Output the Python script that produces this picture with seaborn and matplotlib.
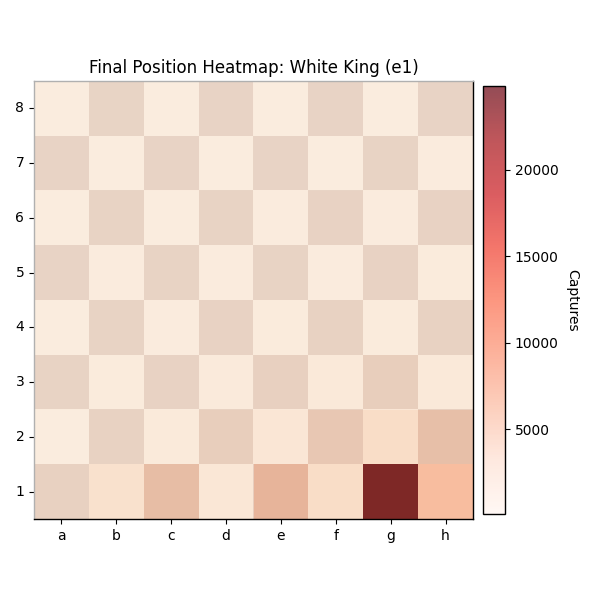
import numpy as np
import pandas as pd
import matplotlib
matplotlib.use("Agg")
import matplotlib.pyplot as plt
import seaborn as sns

files = ["a", "b", "c", "d", "e", "f", "g", "h"]
ranks = ["8", "7", "6", "5", "4", "3", "2", "1"]

rank8 = [80, 150, 120, 200, 130, 220, 150, 250]
rank7 = [200, 120, 220, 150, 250, 160, 300, 180]
rank6 = [130, 300, 160, 350, 200, 380, 250, 450]
rank5 = [250, 180, 300, 220, 350, 260, 420, 300]
rank4 = [150, 350, 250, 450, 300, 550, 350, 600]
rank3 = [300, 350, 400, 550, 1000, 800, 1500, 800]
rank2 = [150, 500, 600, 1500, 1400, 2800, 3300, 4000]
rank1 = [700, 2500, 4200, 1300, 5300, 3300, 24860, 7000]

captures = [rank8, rank7, rank6, rank5, rank4, rank3, rank2, rank1]

df = pd.DataFrame(captures, index=ranks, columns=files)

light_sq = np.array([240, 217, 181]) / 255.0
dark_sq = np.array([181, 136, 99]) / 255.0

fig = plt.figure(figsize=(6, 6), dpi=100)
ax = fig.add_axes([34 / 600, 81 / 600, 439 / 600, 438 / 600])
cax = fig.add_axes([483 / 600, 86 / 600, 22 / 600, 428 / 600])

# chessboard background
rank_nums = np.array([int(r) for r in ranks])[:, None]
file_idx = np.arange(len(files))[None, :]
is_dark = ((file_idx + rank_nums) % 2 == 1)
board = np.where(is_dark[..., None], dark_sq, light_sq)
ax.imshow(board, extent=(0, 8, 8, 0), aspect="auto", zorder=0, interpolation="nearest")

sns.heatmap(df, cmap="Reds", alpha=0.7, ax=ax, cbar_ax=cax, linewidths=0)
ax.set_xlim(0, 8)
ax.set_ylim(8, 0)
ax.set_xlabel("")
ax.set_ylabel("")
ax.set_yticklabels(ranks, rotation=0)
ax.set_xticklabels(files, rotation=0)
ax.tick_params(labelsize=10)
ax.set_title("Final Position Heatmap: White King (e1)", fontsize=12, pad=6)

for name, sp in ax.spines.items():
    sp.set_visible(True)
    if name in ("top", "left"):
        sp.set_color("#b0b0b0")
    else:
        sp.set_color("black")
    sp.set_linewidth(1.0)

cbar = ax.collections[0].colorbar
cbar.set_label("Captures", rotation=270, labelpad=15, fontsize=10)
cbar.outline.set_visible(True)
cbar.outline.set_edgecolor("black")
cbar.outline.set_linewidth(1.0)
cax.tick_params(labelsize=10)

fig.savefig("out.png", dpi=100)
